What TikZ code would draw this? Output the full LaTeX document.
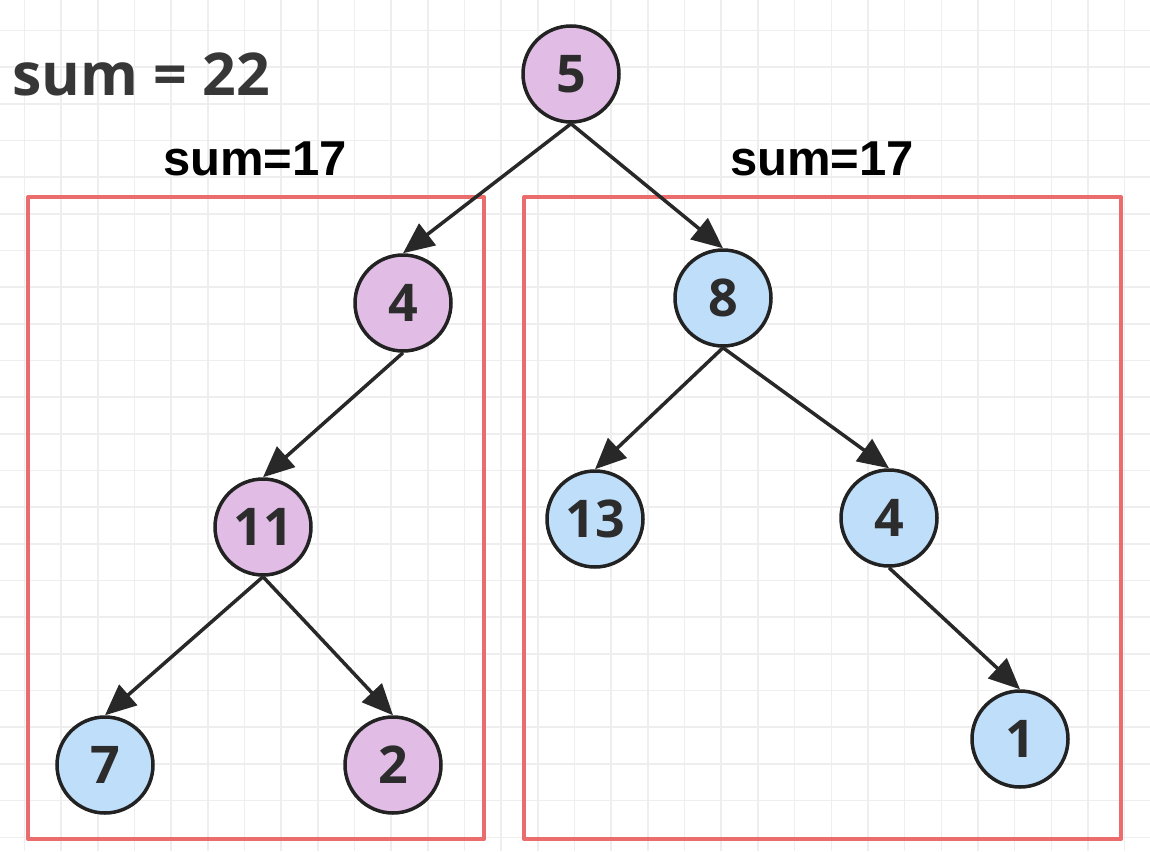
\documentclass[tikz,border=0pt]{standalone}
\usepackage{fontspec}
\usetikzlibrary{arrows.meta}
\newfontfamily\osans{Open Sans}
\newfontfamily\lsans{Liberation Sans}
\definecolor{pinkfill}{RGB}{225,189,230}
\definecolor{bluefill}{RGB}{190,222,250}
\definecolor{nodeline}{RGB}{34,34,34}
\definecolor{arrowcol}{RGB}{40,40,40}
\definecolor{boxred}{RGB}{234,108,108}
\definecolor{gridcol}{RGB}{238,238,238}
\definecolor{titlegray}{RGB}{55,55,55}
\tikzset{
  tnode/.style={circle, draw=nodeline, line width=3.5pt, minimum size=96pt, inner sep=0pt,
    font=\osans\bfseries\fontsize{52}{52}\selectfont, text=titlegray!80!black},
  pinknode/.style={tnode, fill=pinkfill},
  bluenode/.style={tnode, fill=bluefill},
  edge/.style={draw=arrowcol, line width=3.5pt, -{Triangle[length=31pt,width=27pt]}},
  subbox/.style={draw=boxred, line width=4pt, line join=round},
  gridline/.style={draw=gridcol, line width=1.5pt},
  sumlabel/.style={anchor=base west, inner sep=0pt, font=\lsans\bfseries\fontsize{49}{49}\selectfont, text=black},
  totallabel/.style={anchor=base west, inner sep=0pt, font=\osans\bfseries\fontsize{59}{59}\selectfont, text=titlegray}
}
\begin{document}
\begin{tikzpicture}[x=1pt, y=-1pt]
\useasboundingbox (0,0) rectangle (1150,851);
\fill[white] (0,0) rectangle (1150,851);
% grid
\foreach \i in {0,...,31} {
  \draw[gridline] ({24.5+36.67*\i},0) -- ({24.5+36.67*\i},851);
}
\foreach \j in {0,...,23} {
  \draw[gridline] (0,{30.5+36.67*\j}) -- (1150,{30.5+36.67*\j});
}
% boxes
\draw[subbox] (28,197) rectangle (484,839);
\draw[subbox] (524,197) rectangle (1121,839);
% labels
\node[totallabel] (total) at (12,95) {sum = 22};
\node[sumlabel] (suml) at (163,175) {sum=17};
\node[sumlabel] (sumr) at (730,175) {sum=17};
% nodes
\node[pinknode] (n5) at (571,74) {5};
\node[pinknode] (n4l) at (403,303) {4};
\node[pinknode] (n11) at (263,527) {11};
\node[bluenode] (n7) at (105,765) {7};
\node[pinknode] (n2) at (393,765) {2};
\node[bluenode] (n8) at (723,298) {8};
\node[bluenode] (n13) at (595,519) {13};
\node[bluenode] (n4r) at (889,518) {4};
\node[bluenode] (n1) at (1020,739) {1};
% edges
\draw[edge] (n5.south) -- (n4l.north);
\draw[edge] (n5.south) -- (n8.north);
\draw[edge] (n4l.south) -- (n11.north);
\draw[edge] (n11.south) -- (n7.north);
\draw[edge] (n11.south) -- (n2.north);
\draw[edge] (n8.south) -- (n13.north);
\draw[edge] (n8.south) -- (n4r.north);
\draw[edge] (n4r.south) -- (n1.north);
\end{tikzpicture}
\end{document}
